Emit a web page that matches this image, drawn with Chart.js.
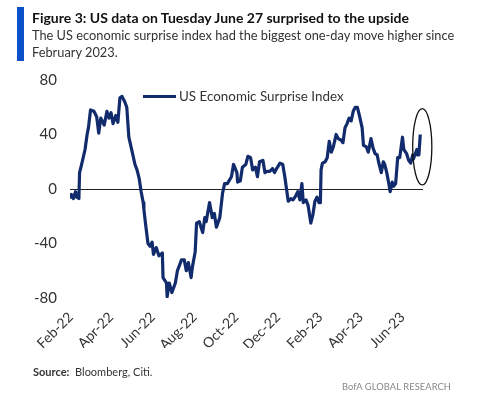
<!DOCTYPE html>
<html>
<head>
<meta charset="utf-8">
<script src="https://cdn.jsdelivr.net/npm/chart.js@4.4.0/dist/chart.umd.min.js"></script>
<style>
  body { margin: 0; background: #fff; font-family: Lato, sans-serif; }
  #wrap { position: relative; width: 479px; height: 405px; overflow: hidden; }
  #bar { position: absolute; left: 17px; top: 7px; width: 7px; height: 54px; background: #0a50c8; }
  #title { position: absolute; left: 32px; top: 9px; font-size: 14px; font-weight: bold; color: #111; white-space: nowrap; }
  #sub { position: absolute; left: 32px; top: 27px; font-size: 12.8px; line-height: 17px; color: #333; white-space: nowrap; }
  #legend { position: absolute; left: 143px; top: 88px; font-size: 13.4px; color: #333; white-space: nowrap; }
  #legend span { display: inline-block; width: 33px; height: 3px; vertical-align: middle; margin-right: 3px; position: relative; top: -1px; }
  #src { position: absolute; left: 33px; top: 365px; font-size: 11px; color: #333; }
  #brand { position: absolute; left: 342px; top: 381px; font-size: 9.3px; color: #888; letter-spacing: 0.1px; }
  canvas { position: absolute; left: 0; top: 0; }
</style>
</head>
<body>
<div id="wrap">
  <canvas id="chart" width="479" height="405"></canvas>
  <div id="bar"></div>
  <div id="title">Figure 3: US data on Tuesday June 27 surprised to the upside</div>
  <div id="sub">The US economic surprise index had the biggest one-day move higher since<br>February 2023.</div>
  <div id="legend"><span></span><em style="font-style:normal"></em></div>
  <div id="src"><b>Source:</b>&nbsp; Bloomberg, Citi.</div>
  <div id="brand">BofA GLOBAL RESEARCH</div>
</div>
<script>
const dates = [
  "2022-01-31","2022-02-02","2022-02-05","2022-02-08","2022-02-10","2022-02-13","2022-02-14","2022-02-17","2022-02-22","2022-02-25",
  "2022-02-27","2022-03-02","2022-03-07","2022-03-11","2022-03-14","2022-03-17","2022-03-22","2022-03-26","2022-03-29","2022-04-01",
  "2022-04-04","2022-04-08","2022-04-11","2022-04-14","2022-04-17","2022-04-21","2022-04-24","2022-04-27","2022-05-02","2022-05-06",
  "2022-05-09","2022-05-12","2022-05-15","2022-05-18","2022-05-19","2022-05-22","2022-05-25","2022-05-28","2022-05-31","2022-06-02",
  "2022-06-06","2022-06-10","2022-06-15","2022-06-16","2022-06-21","2022-06-22","2022-06-25","2022-06-29","2022-07-04","2022-07-07",
  "2022-07-13","2022-07-17","2022-07-20","2022-07-23","2022-07-27","2022-07-29","2022-08-02","2022-08-04","2022-08-08","2022-08-13",
  "2022-08-16","2022-08-18","2022-08-23","2022-08-27","2022-08-30","2022-09-02","2022-09-07","2022-09-11","2022-09-14","2022-09-18",
  "2022-09-24","2022-09-27","2022-10-02","2022-10-03","2022-10-07","2022-10-10","2022-10-15","2022-10-18","2022-10-22","2022-10-25",
  "2022-10-29","2022-11-01","2022-11-04","2022-11-09","2022-11-12","2022-11-15","2022-11-19","2022-11-23","2022-11-26","2022-11-29",
  "2022-12-04","2022-12-08","2022-12-11","2022-12-16","2022-12-20","2022-12-23","2022-12-27","2022-12-30","2023-01-02","2023-01-05",
  "2023-01-07","2023-01-11","2023-01-14","2023-01-18","2023-01-21","2023-01-24","2023-01-27","2023-01-30","2023-02-01","2023-02-02",
  "2023-02-04","2023-02-08","2023-02-11","2023-02-14","2023-02-17","2023-02-20","2023-02-24","2023-02-27","2023-03-03","2023-03-06",
  "2023-03-09","2023-03-12","2023-03-15","2023-03-18","2023-03-21","2023-03-24","2023-03-27","2023-03-30","2023-04-03","2023-04-05",
  "2023-04-09","2023-04-12","2023-04-16","2023-04-19","2023-04-22","2023-04-25","2023-04-27","2023-05-01","2023-05-04","2023-05-06",
  "2023-05-09","2023-05-12","2023-05-14","2023-05-17","2023-05-19","2023-05-22","2023-05-25","2023-05-28","2023-06-01","2023-06-03",
  "2023-06-07","2023-06-10","2023-06-13","2023-06-16","2023-06-17","2023-06-22","2023-06-23","2023-06-25","2023-06-27"
];
const surprise = [
  -7, -4, -7, -2, -6, -7, 12, 18, 29, 40,
  45, 58, 57, 53, 41, 52, 47, 57, 52, 56,
  48, 54, 49, 67, 68, 64, 60, 38, 27, 18,
  14, 8, -2, -10, -15, -28, -40, -42, -39, -48,
  -43, -49, -47, -65, -69, -79, -69, -76, -69, -60,
  -52, -52, -60, -54, -65, -57, -46, -25, -24, -32,
  -21, -24, -10, -21, -18, -28, -21, -3, 4, 4,
  9, 18, 12, 5, 6, 16, 18, 24, 23, 14,
  16, 9, 20, 21, 12, 13, 13, 15, 12, 15,
  19, 18, 9, -9, -7, -8, -5, -2, -8, 4,
  -10, -8, -12, -25, -19, -9, -6, -10, -10, 14,
  19, 20, 23, 35, 27, 31, 40, 37, 36, 34,
  45, 48, 52, 50, 57, 60, 60, 54, 45, 32,
  31, 27, 37, 30, 26, 25, 20, 12, 20, 18,
  12, 4, -2, 5, 2, 4, 23, 23, 38, 29,
  26, 21, 19, 25, 22, 29, 25, 25, 40
];
const tickMonths = ["2022-02-01","2022-04-01","2022-06-01","2022-08-01","2022-10-01","2022-12-01","2023-02-01","2023-04-01","2023-06-01"];
const tickLabels = ["Feb-22","Apr-22","Jun-22","Aug-22","Oct-22","Dec-22","Feb-23","Apr-23","Jun-23"];
const yTicks = [-80, -40, 0, 40, 80];
const seriesName = "US Economic Surprise Index";
const navy = "#122b6c";
const font = "Lato, sans-serif";

// html legend, same name and colour as the dataset
document.querySelector("#legend span").style.background = navy;
document.querySelector("#legend em").textContent = seriesName;

const toMs = d => Date.parse(d + "T00:00:00Z");
const points = dates.map((d, i) => ({ x: toMs(d), y: surprise[i] }));

// circle around the last few days
const ellipsePlugin = {
  id: "ellipse",
  afterDatasetsDraw(chart) {
    const xs = chart.scales.x, ys = chart.scales.y;
    const last = points[points.length - 1];
    const cx = xs.getPixelForValue(last.x) + 2;
    const cy = ys.getPixelForValue(31);
    const ry = Math.abs(ys.getPixelForValue(59) - cy);
    const rx = Math.abs(xs.getPixelForValue(last.x + 14 * 864e5) - xs.getPixelForValue(last.x));
    const ctx = chart.ctx;
    ctx.save();
    ctx.beginPath();
    ctx.ellipse(cx, cy, rx, ry, 0, 0, Math.PI * 2);
    ctx.strokeStyle = "#111";
    ctx.lineWidth = 1.3;
    ctx.stroke();
    ctx.restore();
  }
};

new Chart(document.getElementById("chart"), {
  type: "line",
  data: {
    datasets: [{
      label: seriesName,
      data: points,
      borderColor: navy,
      backgroundColor: navy,
      borderWidth: 3.2,
      pointRadius: 0,
      tension: 0,
      borderJoinStyle: "round"
    }]
  },
  options: {
    responsive: false,
    animation: false,
    layout: { padding: { top: 80, right: 56, bottom: 57, left: 0 } },
    plugins: {
      tooltip: { enabled: false },
      legend: { display: false }
    },
    scales: {
      x: {
        type: "linear",
        min: toMs(dates[0]),
        max: toMs("2023-07-01"),
        afterBuildTicks: s => { s.ticks = tickMonths.map(m => ({ value: toMs(m) })); },
        afterFit: s => { s.height = 50; },
        grid: { display: false },
        border: { display: false },
        ticks: {
          autoSkip: false,
          maxRotation: 45,
          minRotation: 45,
          padding: 3,
          color: "#333",
          font: { family: font, size: 14 },
          callback: v => tickLabels[tickMonths.map(toMs).indexOf(v)]
        }
      },
      y: {
        min: -80,
        max: 80,
        afterBuildTicks: s => { s.ticks = yTicks.map(v => ({ value: v })); },
        afterFit: s => { s.width = 70; },
        border: { display: false },
        grid: {
          drawTicks: false,
          color: c => c.tick && c.tick.value === 0 ? "#222" : "rgba(0,0,0,0)",
          lineWidth: 1
        },
        ticks: {
          padding: 13,
          color: "#333",
          font: { family: font, size: 15 }
        }
      }
    }
  },
  plugins: [ellipsePlugin]
});
</script>
</body>
</html>
